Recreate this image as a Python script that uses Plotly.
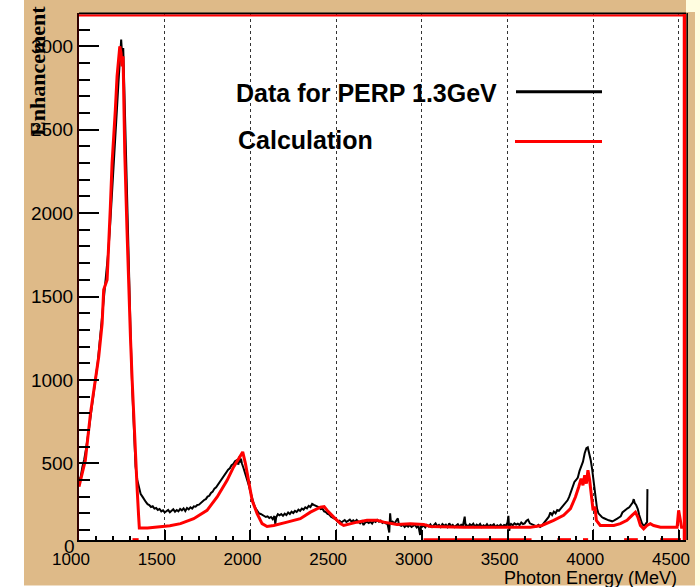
import plotly.graph_objects as go

# measured enhancement, PERP 1.3 GeV (black)
data_energy = [
    1000, 1010, 1020, 1030, 1040, 1050, 1060, 1070, 1080, 1090, 1100, 1110, 1120, 1130, 1140, 1150,
    1160, 1170, 1180, 1190, 1200, 1210, 1220, 1230, 1240, 1246, 1252, 1258, 1264, 1272, 1280, 1290,
    1300, 1310, 1320, 1330, 1340, 1350, 1360, 1370, 1380, 1390, 1400, 1410, 1420, 1430, 1440, 1450,
    1460, 1470, 1480, 1490, 1500, 1510, 1520, 1530, 1540, 1550, 1560, 1570, 1580, 1590, 1600, 1610,
    1620, 1630, 1640, 1650, 1660, 1670, 1680, 1690, 1700, 1710, 1720, 1730, 1740, 1750, 1760, 1770,
    1780, 1790, 1800, 1810, 1820, 1830, 1840, 1850, 1860, 1870, 1880, 1890, 1900, 1910, 1920, 1930,
    1935, 1940, 1945, 1950, 1960, 1970, 1980, 1990, 2000, 2010, 2020, 2030, 2040, 2050, 2060, 2070,
    2080, 2090, 2100, 2110, 2120, 2130, 2140, 2145, 2150, 2160, 2170, 2180, 2190, 2200, 2210, 2220,
    2230, 2240, 2250, 2260, 2270, 2280, 2290, 2300, 2310, 2320, 2330, 2340, 2350, 2360, 2370, 2380,
    2390, 2400, 2410, 2420, 2430, 2440, 2450, 2460, 2470, 2480, 2490, 2500, 2510, 2520, 2530, 2540,
    2550, 2560, 2570, 2580, 2590, 2600, 2610, 2620, 2630, 2640, 2650, 2660, 2670, 2680, 2690, 2700,
    2710, 2720, 2730, 2740, 2750, 2760, 2770, 2780, 2790, 2800, 2810, 2815, 2820, 2830, 2840, 2850,
    2860, 2865, 2870, 2880, 2890, 2900, 2910, 2920, 2930, 2940, 2950, 2960, 2970, 2980, 2990, 2995,
    3000, 3010, 3020, 3030, 3040, 3050, 3060, 3070, 3080, 3090, 3100, 3110, 3120, 3130, 3140, 3150,
    3160, 3170, 3180, 3190, 3200, 3210, 3220, 3230, 3240, 3250, 3255, 3260, 3270, 3280, 3290, 3300,
    3310, 3320, 3330, 3340, 3350, 3360, 3370, 3380, 3390, 3400, 3410, 3420, 3430, 3440, 3450, 3460,
    3470, 3480, 3490, 3500, 3505, 3510, 3515, 3520, 3530, 3540, 3550, 3560, 3570, 3580, 3590, 3600,
    3610, 3620, 3630, 3640, 3650, 3660, 3670, 3680, 3690, 3700, 3710, 3720, 3730, 3740, 3750, 3760,
    3770, 3780, 3790, 3800, 3810, 3820, 3830, 3840, 3850, 3860, 3870, 3880, 3890, 3900, 3910, 3920,
    3930, 3940, 3950, 3960, 3968, 3975, 3985, 3993, 4002, 4012, 4022, 4030, 4040, 4050, 4060, 4070,
    4080, 4090, 4100, 4110, 4120, 4130, 4140, 4150, 4160, 4170, 4180, 4190, 4200, 4210, 4220, 4230,
    4236, 4242, 4250, 4260, 4268, 4276, 4284, 4292, 4300, 4308, 4314, 4316,
]
data_enh = [
    395, 420, 480, 520, 580, 640, 720, 800, 880, 950, 1020, 1110, 1220, 1320, 1440, 1540,
    1640, 1760, 1900, 2060, 2220, 2400, 2600, 2780, 2930, 3040, 2940, 2990, 2760, 2400, 2100, 1700,
    1320, 960, 680, 480, 400, 350, 315, 300, 280, 268, 255, 250, 238, 242, 228, 232,
    220, 226, 212, 218, 205, 214, 220, 206, 215, 224, 210, 220, 212, 226, 218, 230,
    214, 232, 224, 236, 228, 242, 240, 250, 252, 262, 266, 280, 285, 300, 305, 322,
    330, 348, 356, 372, 384, 400, 412, 430, 446, 462, 470, 488, 496, 512, 518, 492,
    540, 505, 528, 500, 470, 440, 410, 370, 330, 290, 255, 230, 212, 200, 196, 190,
    185, 178, 182, 172, 178, 165, 184, 135, 175, 195, 188, 196, 185, 198, 190, 205,
    196, 210, 202, 215, 208, 222, 215, 228, 222, 236, 230, 245, 238, 256, 250, 245,
    238, 236, 225, 228, 212, 208, 196, 192, 180, 175, 165, 162, 150, 155, 145, 152,
    160, 148, 155, 162, 150, 158, 148, 160, 150, 140, 152, 130, 145, 150, 142, 150,
    138, 155, 148, 160, 150, 156, 142, 148, 140, 135, 85, 200, 140, 150, 138, 152,
    170, 140, 130, 125, 132, 118, 128, 120, 130, 118, 126, 132, 115, 125, 70, 125,
    118, 128, 116, 130, 122, 134, 118, 128, 140, 122, 130, 118, 135, 125, 132, 118,
    140, 122, 130, 118, 125, 135, 120, 132, 128, 180, 125, 130, 120, 135, 126, 138,
    120, 132, 124, 136, 118, 128, 122, 135, 120, 130, 125, 134, 118, 128, 122, 132,
    120, 130, 126, 145, 185, 95, 130, 136, 128, 140, 132, 138, 130, 145, 136, 140,
    155, 162, 140, 136, 130, 128, 122, 130, 118, 126, 140, 150, 165, 178, 205, 190,
    210, 200, 220, 215, 228, 240, 248, 262, 278, 300, 330, 350, 388, 400, 415, 455,
    480, 510, 560, 590, 595, 565, 520, 468, 398, 300, 228, 200, 188, 178, 172, 166,
    160, 158, 155, 152, 156, 160, 168, 175, 182, 205, 215, 225, 230, 236, 248, 265,
    285, 262, 250, 225, 190, 160, 140, 128, 126, 140, 148, 345,
]

# calculation (red)
calc_energy = [
    1000, 1037, 1067, 1096, 1115, 1135, 1144, 1164, 1173, 1183, 1193, 1202, 1212, 1222, 1232, 1238,
    1245, 1251, 1257, 1261, 1267, 1280, 1290, 1300, 1310, 1319, 1329, 1339, 1348, 1352, 1400, 1475,
    1530, 1592, 1669, 1747, 1806, 1864, 1902, 1932, 1955, 1971, 1990, 2010, 2039, 2068, 2097, 2136,
    2214, 2291, 2350, 2408, 2430, 2447, 2486, 2525, 2544, 2583, 2622, 2680, 2739, 2778, 2817, 2855,
    2933, 3011, 3050, 3244, 3633, 3700, 3769, 3827, 3867, 3896, 3915, 3929, 3940, 3950, 3960, 3969,
    3979, 3989, 3999, 4010, 4018, 4041, 4120, 4158, 4197, 4226, 4246, 4260, 4275, 4294, 4313, 4333,
    4352, 4392, 4489, 4498, 4508, 4515, 4537,
]
calc_enh = [
    360, 518, 799, 999, 1139, 1339, 1540, 1600, 1860, 2040, 2300, 2440, 2620, 2820, 2930, 3000,
    2960, 2880, 2940, 2720, 2360, 1900, 1520, 1260, 1000, 800, 480, 350, 180, 112, 112, 117,
    125, 138, 168, 218, 298, 398, 478, 528, 568, 498, 378, 278, 198, 138, 121, 127,
    147, 168, 207, 237, 240, 218, 177, 138, 127, 138, 147, 158, 158, 147, 138, 133,
    138, 133, 121, 117, 117, 127, 158, 188, 228, 298, 358, 408, 368, 428, 378, 458,
    398, 298, 218, 240, 158, 127, 127, 138, 158, 188, 207, 177, 127, 107, 127, 138,
    127, 117, 117, 218, 168, 117, 117,
]

# pieces of the calculation lying on the axis
floor_energy = [1312, 1348, None, 3010, 3640, None, 3790, 3870, None, 3940, 3970, None,
                4180, 4260, None, 4390, 4512]
floor_enh = [42, 42, None, 42, 42, None, 42, 42, None, 42, 42, None, 42, 42, None, 42, 42]

TAN = "#DEBA88"

# plot area in pixels: x 79..686, y 13..540
def px(x):
    return (x - 79) / 607.0

def py(y):
    return (540 - y) / 527.0

fig = go.Figure()
fig.add_trace(go.Scatter(x=data_energy, y=data_enh, mode="lines",
                         line=dict(color="black", width=2), showlegend=False))
fig.add_trace(go.Scatter(x=calc_energy, y=calc_enh, mode="lines",
                         line=dict(color="#FF0000", width=3), showlegend=False))
fig.add_trace(go.Scatter(x=floor_energy, y=floor_enh, mode="lines", connectgaps=False,
                         line=dict(color="#FF0000", width=3), showlegend=False))

shapes = [
    # white strip on the left, pale strip on the right, white bottom row
    dict(type="rect", xref="paper", yref="paper", x0=px(0), x1=px(24), y0=py(590), y1=py(-5),
         fillcolor="white", line_width=0, layer="above"),
    dict(type="rect", xref="paper", yref="paper", x0=px(695), x1=px(705), y0=py(590), y1=py(-5),
         fillcolor="#FFFDE0", line_width=0, layer="above"),
    dict(type="rect", xref="paper", yref="paper", x0=px(686), x1=px(705), y0=py(12), y1=py(-5),
         fillcolor="#FFFDE0", line_width=0, layer="above"),
    dict(type="rect", xref="paper", yref="paper", x0=px(0), x1=px(705), y0=py(590), y1=py(585.5),
         fillcolor="white", line_width=0, layer="above"),
    # frame: top black + red, right red + black
    dict(type="line", xref="paper", yref="paper", x0=0, x1=1, y0=py(13.5), y1=py(13.5),
         line=dict(color="black", width=2)),
    dict(type="line", xref="paper", yref="paper", x0=0, x1=px(685), y0=py(15.5), y1=py(15.5),
         line=dict(color="#FF0000", width=2)),
    dict(type="line", xref="paper", yref="paper", x0=px(684.5), x1=px(684.5), y0=0, y1=py(14),
         line=dict(color="#FF0000", width=3.5)),
    dict(type="line", xref="paper", yref="paper", x0=px(687.2), x1=px(687.2), y0=0, y1=py(13),
         line=dict(color="black", width=1.5)),
    # legend lines
    dict(type="line", xref="paper", yref="paper", x0=px(516), x1=px(602), y0=py(91.7), y1=py(91.7),
         line=dict(color="black", width=3)),
    dict(type="line", xref="paper", yref="paper", x0=px(515), x1=px(602), y0=py(141.5), y1=py(141.5),
         line=dict(color="#FF0000", width=3)),
]

annotations = [
    dict(text="Data for PERP 1.3GeV", xref="paper", yref="paper", x=px(234), y=py(93),
         xanchor="left", yanchor="middle", showarrow=False,
         font=dict(family="Liberation Sans", size=25, color="black", weight="bold")),
    dict(text="Calculation", xref="paper", yref="paper", x=px(236), y=py(140),
         xanchor="left", yanchor="middle", showarrow=False,
         font=dict(family="Liberation Sans", size=25, color="black", weight="bold")),
    dict(text="Enhancement", xref="paper", yref="paper", x=px(37), y=py(71), textangle=-90,
         xanchor="center", yanchor="middle", showarrow=False,
         font=dict(family="Liberation Serif", size=22, color="black", weight="bold")),
    dict(text="Photon Energy (MeV)", xref="paper", yref="paper", x=px(679), y=py(578),
         xanchor="right", yanchor="middle", showarrow=False,
         font=dict(family="Liberation Sans", size=18, color="black")),
    dict(text="0", xref="paper", yref="paper", x=px(77), y=py(546),
         xanchor="right", yanchor="middle", showarrow=False,
         font=dict(family="Liberation Sans", size=19, color="black")),
]

fig.update_layout(
    width=700, height=587,
    margin=dict(l=79, r=14, t=13, b=47, pad=0),
    paper_bgcolor=TAN, plot_bgcolor="white",
    shapes=shapes, annotations=annotations,
    xaxis=dict(
        range=[1000, 4541], dtick=500, tick0=1000, automargin=False,
        ticks="inside", ticklen=10, tickwidth=1.5, tickcolor="black",
        ticklabelshift=-8, ticklabelstandoff=3,
        tickfont=dict(family="Liberation Sans", size=17, color="black"),
        showgrid=True, gridcolor="#333333", griddash="dot", gridwidth=1,
        showline=True, linecolor="black", linewidth=2, zeroline=False,
        minor=dict(dtick=100, ticks="inside", ticklen=4, tickwidth=1.5, tickcolor="black",
                   showgrid=False),
    ),
    yaxis=dict(
        range=[40, 3200], dtick=500, tick0=0, automargin=False,
        ticks="inside", ticklen=20, tickwidth=2, tickcolor="black",
        tickfont=dict(family="Liberation Sans", size=19, color="black"),
        showgrid=False, showline=True, linecolor="#300000", linewidth=2, zeroline=False,
        minor=dict(dtick=100, ticks="inside", ticklen=11, tickwidth=2, tickcolor="black",
                   showgrid=False),
    ),
)

# the page's default body margin would push the figure 8px right/down
fig.write_html("out.html", config={"displayModeBar": False},
               post_script="document.body.style.margin='0';")
